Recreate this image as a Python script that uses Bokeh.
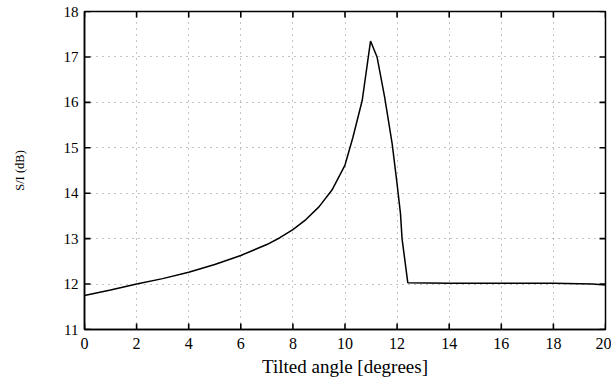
import math
from bokeh.plotting import figure
from bokeh.models import Range1d, FixedTicker
from bokeh.embed import file_html
from bokeh.resources import INLINE

angle = [0, 1, 2, 3, 4, 5, 6, 7, 7.5, 8, 8.5, 9, 9.5, 10, 10.3, 10.66, 10.98,
         11.23, 11.52, 11.81, 12.0, 12.13, 12.19, 12.41, 14, 16, 18, 19.5, 20]
si = [11.75, 11.87, 12.0, 12.12, 12.26, 12.43, 12.63, 12.87, 13.02, 13.2, 13.42, 13.7,
      14.07, 14.62, 15.22, 16.04, 17.35, 17.0, 16.12, 15.09, 14.2, 13.55, 13.0,
      12.03, 12.02, 12.02, 12.02, 12.0, 11.98]
x_ticks = [0, 2, 4, 6, 8, 10, 12, 14, 16, 18, 20]
y_ticks = [11, 12, 13, 14, 15, 16, 17, 18]

FONT = "Liberation Serif, serif"
TICK_LEN = 6
TICK_W = 1.6

p = figure(width=611, height=380, output_backend="svg", toolbar_location=None,
           x_range=Range1d(0, 20), y_range=Range1d(11, 18),
           min_border_left=84, min_border_right=6, min_border_top=11, min_border_bottom=51)
p.background_fill_color = "white"
p.border_fill_color = "white"
p.outline_line_color = "black"
p.outline_line_width = 1.5

for g in (p.xgrid[0], p.ygrid[0]):
    g.grid_line_color = "#888888"
    g.grid_line_dash = "1 5"
    g.grid_line_width = 1
p.xgrid[0].ticker = FixedTicker(ticks=x_ticks)
p.ygrid[0].ticker = FixedTicker(ticks=y_ticks)

p.line(angle, si, line_color="black", line_width=1.5)

# inward tick marks on all four edges, drawn as short screen-length rays
x_lo, x_hi = x_ticks[0], x_ticks[-1]
y_lo, y_hi = y_ticks[0], y_ticks[-1]
tick_kw = dict(length=TICK_LEN, length_units="screen", line_color="black", line_width=TICK_W)
p.ray(x=x_ticks, y=[y_lo] * len(x_ticks), angle=math.pi / 2, **tick_kw)
p.ray(x=x_ticks, y=[y_hi] * len(x_ticks), angle=-math.pi / 2, **tick_kw)
p.ray(x=[x_lo] * len(y_ticks), y=y_ticks, angle=0, **tick_kw)
p.ray(x=[x_hi] * len(y_ticks), y=y_ticks, angle=math.pi, **tick_kw)

for ax in (p.xaxis[0], p.yaxis[0]):
    ax.axis_line_color = "black"
    ax.axis_line_width = 1.5
    ax.major_tick_in = 0
    ax.major_tick_out = 0
    ax.minor_tick_line_color = None
    ax.major_tick_line_color = None
    ax.major_label_text_font = FONT
    ax.major_label_text_color = "black"
    ax.axis_label_text_font = FONT
    ax.axis_label_text_font_style = "normal"
    ax.axis_label_text_color = "black"

p.xaxis[0].ticker = FixedTicker(ticks=x_ticks)
p.yaxis[0].ticker = FixedTicker(ticks=y_ticks)
p.xaxis[0].major_label_text_font_size = "16px"
p.yaxis[0].major_label_text_font_size = "15px"
p.xaxis[0].axis_label = "Tilted angle [degrees]"
p.xaxis[0].axis_label_text_font_size = "19px"
p.xaxis[0].major_label_standoff = 8
p.xaxis[0].axis_label_standoff = 4
p.yaxis[0].axis_label = "S/I (dB)"
p.yaxis[0].axis_label_text_font_size = "12.5px"
p.yaxis[0].major_label_standoff = 6
p.yaxis[0].axis_label_standoff = 34

open("out.html", "w").write(file_html(p, INLINE))
